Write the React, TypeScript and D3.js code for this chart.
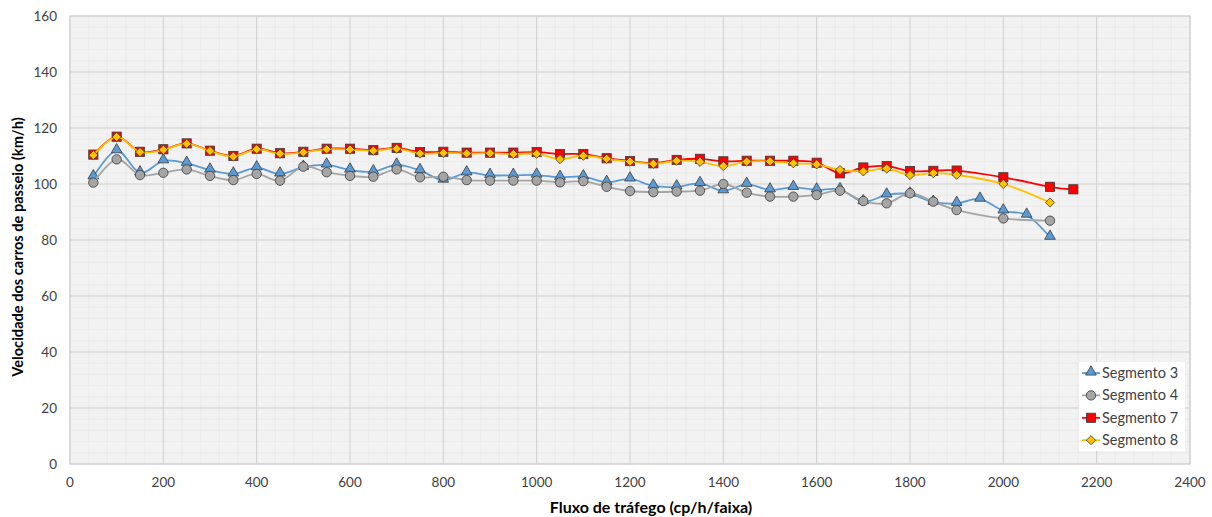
import React from "react";
import * as d3 from "d3";

const xTicks = [0, 200, 400, 600, 800, 1000, 1200, 1400, 1600, 1800, 2000, 2200, 2400];
const yTicks = [0, 20, 40, 60, 80, 100, 120, 140, 160];

const flowSeg3 = [50,100,150,200,250,300,350,400,450,500,550,600,650,700,750,800,850,900,950,1000,1050,1100,1150,1200,1250,1300,1350,1400,1450,1500,1550,1600,1650,1700,1750,1800,1850,1900,1950,2000,2050,2100];
const speedSeg3 = [102.6,111.9,104,108.3,107.4,105,103.6,105.8,103.6,106,106.8,105,104.4,106.8,104.8,101.4,104,103.1,103.1,103.2,102.4,102.6,100.6,101.8,99.3,99,100.2,97.6,99.9,97.9,98.8,97.9,98,93.7,96.1,96.4,93.5,93.1,94.6,90.4,88.9,81];

const flowSeg4 = [50,100,150,200,250,300,350,400,450,500,550,600,650,700,750,800,850,900,950,1000,1050,1100,1150,1200,1250,1300,1350,1400,1450,1500,1550,1600,1650,1700,1750,1800,1850,1900,2000,2100];
const speedSeg4 = [100.5,108.8,103.2,104,105.2,102.9,101.4,103.6,101.2,106.2,104.2,102.9,102.6,105.2,102.4,102.6,101.4,101.2,101.2,101.2,100.6,101,99,97.5,97.1,97.3,97.6,100,96.9,95.5,95.5,96.1,97.6,93.9,93.1,96.7,93.7,90.7,87.7,86.9];

const flowSeg7 = [50,100,150,200,250,300,350,400,450,500,550,600,650,700,750,800,850,900,950,1000,1050,1100,1150,1200,1250,1300,1350,1400,1450,1500,1550,1600,1650,1700,1750,1800,1850,1900,2000,2100,2150];
const speedSeg7 = [110.5,116.9,111.5,112.4,114.5,111.9,110,112.6,111,111.5,112.6,112.6,112.1,112.9,111.4,111.5,111.2,111.2,111.2,111.4,110.7,110.7,109.2,108.2,107.4,108.6,109,108.1,108.3,108.3,108.3,107.6,103.8,105.9,106.4,104.6,104.7,104.8,102.4,99,98.1];

const flowSeg8 = [50,100,150,200,250,300,350,400,450,500,550,600,650,700,750,800,850,900,950,1000,1050,1100,1150,1200,1250,1300,1350,1400,1450,1500,1550,1600,1650,1700,1750,1800,1850,1900,2000,2100];
const speedSeg8 = [110.3,116.8,111.4,112.2,114.4,111.8,109.8,112.4,110.8,111.3,112.4,112.3,111.9,112.6,110.9,111.1,110.9,111,110.7,110.8,108.9,110.1,109,108,107.2,108.3,107.9,106.4,108,108.1,107.4,107,105,104.5,105.5,103.2,103.9,103.3,100,93.4];

const seriesNames = ["Segmento 3", "Segmento 4", "Segmento 7", "Segmento 8"];

const W = 1212, H = 517;
const L = 70, R = 1190, T = 16, B = 464;
const FONT = "Lato, 'Open Sans', sans-serif";

type Pt = [number, number];
const zip = (xs: number[], ys: number[]): Pt[] => xs.map((x, i) => [x, ys[i]]);

const series = [
  { name: seriesNames[0], data: zip(flowSeg3, speedSeg3), line: "#5B9BD5", fill: "#5B9BD5", shape: "triangle" },
  { name: seriesNames[1], data: zip(flowSeg4, speedSeg4), line: "#A5A5A5", fill: "#A5A5A5", shape: "circle" },
  { name: seriesNames[2], data: zip(flowSeg7, speedSeg7), line: "#FF0000", fill: "#FF0000", shape: "square" },
  { name: seriesNames[3], data: zip(flowSeg8, speedSeg8), line: "#FFC000", fill: "#FFC000", shape: "diamond" },
];

function Marker({ shape, x, y, fill }: { shape: string; x: number; y: number; fill: string }) {
  const stroke = "#3a3a3a";
  const sw = 0.8;
  if (shape === "triangle") {
    const p = d3.symbol(d3.symbolTriangle, 50)();
    return <path d={p || ""} transform={`translate(${x},${y - 1})`} fill={fill} stroke={stroke} strokeWidth={sw} />;
  }
  if (shape === "circle") {
    return <circle cx={x} cy={y} r={4.7} fill={fill} stroke={stroke} strokeWidth={sw} />;
  }
  if (shape === "square") {
    return <rect x={x - 4.6} y={y - 4.6} width={9.2} height={9.2} fill={fill} stroke={stroke} strokeWidth={sw} />;
  }
  return <path d="M0,-4.6L4.6,0L0,4.6L-4.6,0Z" transform={`translate(${x},${y})`} fill={fill} stroke={stroke} strokeWidth={sw} />;
}

export default function App() {
  const x = d3.scaleLinear().domain([0, 2400]).range([L, R]);
  const y = d3.scaleLinear().domain([0, 160]).range([B, T]);
  const line = d3
    .line<Pt>()
    .x((d) => x(d[0]))
    .y((d) => y(d[1]))
    .curve(d3.curveCatmullRom.alpha(0));

  const xMinor = d3.range(0, 2400, 40).filter((v) => v % 200 !== 0);
  const yMinor = d3.range(0, 160, 4).filter((v) => v % 20 !== 0);

  const legX = 1079, legY = 362, legW = 106, legH = 89, legStep = 22.4;

  return (
    <svg width={W} height={H} style={{ position: "absolute", left: 0, top: 0, background: "#fff" }}>
      <rect x={L} y={T} width={R - L} height={B - T} fill="#F2F2F2" />
      {xMinor.map((v) => (
        <line key={"xm" + v} x1={x(v)} x2={x(v)} y1={T} y2={B} stroke="#E8E8E8" strokeWidth={0.8} />
      ))}
      {yMinor.map((v) => (
        <line key={"ym" + v} x1={L} x2={R} y1={y(v)} y2={y(v)} stroke="#E8E8E8" strokeWidth={0.8} />
      ))}
      {xTicks.map((v) => (
        <line key={"xg" + v} x1={x(v)} x2={x(v)} y1={T} y2={B} stroke="#CFCFCF" strokeWidth={1} />
      ))}
      {yTicks.map((v) => (
        <line key={"yg" + v} x1={L} x2={R} y1={y(v)} y2={y(v)} stroke="#CFCFCF" strokeWidth={1} />
      ))}
      <rect x={L} y={T} width={R - L} height={B - T} fill="none" stroke="#D0D0D0" strokeWidth={1} />

      {yTicks.map((v) => (
        <text key={"yt" + v} x={57} y={y(v)} dy="0.35em" textAnchor="end" fontFamily={FONT} fontSize={13.5} fill="#404040">
          {v}
        </text>
      ))}
      {xTicks.map((v) => (
        <text key={"xt" + v} x={x(v)} y={482} dy="0.35em" textAnchor="middle" fontFamily={FONT} fontSize={13.5} fill="#404040">
          {v}
        </text>
      ))}
      <text x={651} y={507} dy="0.35em" textAnchor="middle" fontFamily={FONT} fontSize={16} fontWeight="bold" fill="#000">
        Fluxo de tráfego (cp/h/faixa)
      </text>
      <text
        transform={`translate(18,247) rotate(-90)`}
        dy="0.35em"
        textAnchor="middle"
        fontFamily={FONT}
        fontSize={14.6}
        fontWeight="bold"
        fill="#000"
      >
        Velocidade dos carros de passeio (km/h)
      </text>

      {series.map((s) => (
        <g key={s.name}>
          <path d={line(s.data) || ""} fill="none" stroke={s.line} strokeWidth={1.8} />
          {s.data.map((d, i) => (
            <Marker key={i} shape={s.shape} x={x(d[0])} y={y(d[1])} fill={s.fill} />
          ))}
        </g>
      ))}

      <rect x={legX} y={legY} width={legW} height={legH} fill="#fff" />
      {series.map((s, i) => {
        const cy = legY + 11 + i * legStep;
        return (
          <g key={"lg" + s.name}>
            <line x1={legX + 3} x2={legX + 21} y1={cy} y2={cy} stroke={s.line} strokeWidth={1.8} />
            <Marker shape={s.shape} x={legX + 12} y={cy} fill={s.fill} />
            <text x={legX + 23} y={cy} dy="0.35em" fontFamily={FONT} fontSize={14.5} fill="#404040">
              {s.name}
            </text>
          </g>
        );
      })}
    </svg>
  );
}
